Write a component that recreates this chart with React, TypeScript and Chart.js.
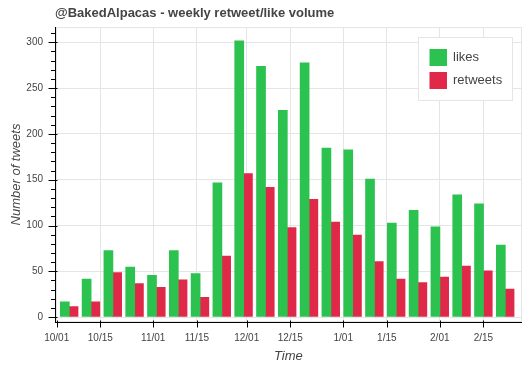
import React, { useEffect, useRef } from 'react';
import { Chart, registerables } from 'chart.js';

Chart.register(...registerables);

// ---- data ----
const weekDates = [
  '2016-10-05', '2016-10-12', '2016-10-19', '2016-10-26', '2016-11-02', '2016-11-09', '2016-11-16',
  '2016-11-23', '2016-11-30', '2016-12-07', '2016-12-14', '2016-12-21', '2016-12-28', '2017-01-04',
  '2017-01-11', '2017-01-18', '2017-01-25', '2017-02-01', '2017-02-08', '2017-02-15', '2017-02-22',
];
const likes = [17, 42, 73, 55, 46, 73, 48, 147, 302, 274, 226, 278, 185, 183, 151, 103, 117, 99, 134, 124, 79];
const retweets = [12, 17, 49, 37, 33, 41, 22, 67, 157, 142, 98, 129, 104, 90, 61, 42, 38, 44, 56, 51, 31];

const tickDates = [
  '2016-10-01', '2016-10-15', '2016-11-01', '2016-11-15', '2016-12-01',
  '2016-12-15', '2017-01-01', '2017-01-15', '2017-02-01', '2017-02-15',
];
const tickLabels = ['10/01', '10/15', '11/01', '11/15', '12/01', '12/15', '1/01', '1/15', '2/01', '2/15'];
const yTicks = [0, 50, 100, 150, 200, 250, 300];
const yMinorStep = 10;

const seriesNames = ['likes', 'retweets'];
const GREEN = '#2cc250';
const RED = '#e02848';

const FAMILY = '"Liberation Sans", Helvetica, Arial, sans-serif';
const DAY = 86400000;
const ORIGIN = Date.parse('2016-10-01');
const toDay = (s: string) => (Date.parse(s) - ORIGIN) / DAY;

const weekDays = weekDates.map(toDay);
const tickDays = tickDates.map(toDay);

const bokehPlugin = {
  id: 'bokehDecor',
  beforeDatasetsDraw(chart: any) {
    const { ctx, chartArea: ca } = chart;
    ctx.save();
    ctx.strokeStyle = '#e5e5e5';
    ctx.lineWidth = 1;
    ctx.strokeRect(Math.round(ca.left) + 0.5, Math.round(ca.top) + 0.5, Math.round(ca.width) - 1, Math.round(ca.height) - 1);
    ctx.restore();
  },
  afterDraw(chart: any) {
    const { ctx, chartArea: ca } = chart;
    const xs = chart.scales.x;
    const ys = chart.scales.y;
    ctx.save();
    ctx.strokeStyle = '#000';
    ctx.lineWidth = 1;
    const ax = Math.round(ca.left) + 0.5;
    const ay = Math.round(ca.bottom) + 0.5;
    ctx.beginPath();
    // axis lines
    ctx.moveTo(ax, Math.round(ca.top));
    ctx.lineTo(ax, Math.round(ca.bottom) + 1);
    ctx.moveTo(Math.round(ca.left), ay);
    ctx.lineTo(Math.round(ca.right), ay);
    // y major ticks
    yTicks.forEach((v) => {
      const py = Math.round(ys.getPixelForValue(v)) + 0.5;
      ctx.moveTo(ax - 7, py);
      ctx.lineTo(ax + 2, py);
    });
    // y minor ticks
    for (let v = 0; v <= ys.max; v += yMinorStep) {
      if (yTicks.includes(v)) continue;
      const py = Math.round(ys.getPixelForValue(v)) + 0.5;
      ctx.moveTo(ax - 4.5, py);
      ctx.lineTo(ax, py);
    }
    // x major ticks
    tickDays.forEach((d) => {
      const px = Math.round(xs.getPixelForValue(d)) + 0.5;
      ctx.moveTo(px, ay - 2);
      ctx.lineTo(px, ay + 5);
    });
    ctx.stroke();

    // legend
    const items = chart.data.datasets.map((ds: any) => ({ label: ds.label, color: ds.backgroundColor }));
    ctx.font = `13px ${FAMILY}`;
    const tw = Math.max(...items.map((it: any) => ctx.measureText(it.label).width));
    const w = 10 + 20 + 5 + tw + 10;
    const h = 10 + items.length * 20 + (items.length - 1) * 3 + 10;
    const x0 = Math.round(ca.right - 10 - w);
    const y0 = Math.round(ca.top + 10);
    ctx.fillStyle = 'rgba(255,255,255,0.95)';
    ctx.fillRect(x0, y0, w, h);
    ctx.strokeStyle = '#e5e5e5';
    ctx.strokeRect(x0 + 0.5, y0 + 0.5, Math.round(w), h);
    items.forEach((it: any, i: number) => {
      const ry = y0 + 10 + i * 23;
      ctx.fillStyle = it.color;
      ctx.fillRect(x0 + 11.5, ry + 2, 17.5, 17);
      ctx.fillStyle = '#444';
      ctx.textBaseline = 'middle';
      ctx.textAlign = 'left';
      ctx.fillText(it.label, x0 + 35, ry + 10.5);
    });
    ctx.restore();
  },
};

export default function App() {
  const canvasRef = useRef<HTMLCanvasElement | null>(null);

  useEffect(() => {
    document.body.style.margin = '0';
    const canvas = canvasRef.current;
    if (!canvas) return;
    const chart = new Chart(canvas, {
      type: 'bar',
      data: {
        datasets: [
          {
            label: seriesNames[0],
            data: weekDays.map((x, i) => ({ x, y: likes[i] })),
            backgroundColor: GREEN,
            borderWidth: 0,
          },
          {
            label: seriesNames[1],
            data: weekDays.map((x, i) => ({ x, y: retweets[i] })),
            backgroundColor: RED,
            borderWidth: 0,
          },
        ],
      },
      options: {
        responsive: false,
        devicePixelRatio: 1,
        animation: false,
        datasets: {
          bar: { categoryPercentage: 0.8, barPercentage: 1.11 },
        },
        layout: { padding: { left: 0, right: 5.3, top: 0, bottom: 0 } },
        plugins: {
          legend: { display: false },
          tooltip: { enabled: false },
          title: {
            display: true,
            text: '@BakedAlpacas - weekly retweet/like volume',
            align: 'start',
            fullSize: false,
            color: '#444',
            font: { size: 13, weight: 'bold', family: FAMILY, lineHeight: 1.2 },
            padding: { top: 6, bottom: 5.4 },
          },
        },
        scales: {
          x: {
            type: 'linear',
            min: -0.55,
            max: 149.3,
            offset: false,
            afterBuildTicks: (s: any) => {
              s.ticks = tickDays.map((v) => ({ value: v }));
            },
            afterFit: (s: any) => {
              s.height = 50;
            },
            ticks: {
              autoSkip: false,
              maxRotation: 0,
              padding: 10,
              color: '#444',
              font: { size: 10, family: FAMILY },
              callback: (v: any) => tickLabels[tickDays.indexOf(Number(v))] ?? '',
            },
            grid: { color: '#e5e5e5', drawTicks: false, offset: false },
            border: { display: false },
            title: {
              display: true,
              text: 'Time',
              color: '#444',
              font: { size: 13, style: 'italic', family: FAMILY, lineHeight: 1.2 },
              padding: { top: 0, bottom: 8.2 },
            },
          },
          y: {
            type: 'linear',
            min: -5.3,
            max: 316.7,
            afterBuildTicks: (s: any) => {
              s.ticks = yTicks.map((v) => ({ value: v }));
            },
            afterFit: (s: any) => {
              s.width = 55;
            },
            ticks: {
              padding: 12,
              color: '#444',
              font: { size: 10, family: FAMILY },
              callback: (v: any) => String(v),
            },
            grid: { color: '#e5e5e5', drawTicks: false },
            border: { display: false },
            title: {
              display: true,
              text: 'Number of tweets',
              color: '#444',
              font: { size: 13, style: 'italic', family: FAMILY, lineHeight: 1.2 },
              padding: { top: 8.7, bottom: 0 },
            },
          },
        },
      },
      plugins: [bokehPlugin],
    } as any);
    return () => chart.destroy();
  }, []);

  return (
    <div style={{ position: 'absolute', left: 0, top: 0, width: 527, height: 372 }}>
      <canvas ref={canvasRef} width={527} height={372} style={{ display: 'block', width: 527, height: 372 }} />
    </div>
  );
}
